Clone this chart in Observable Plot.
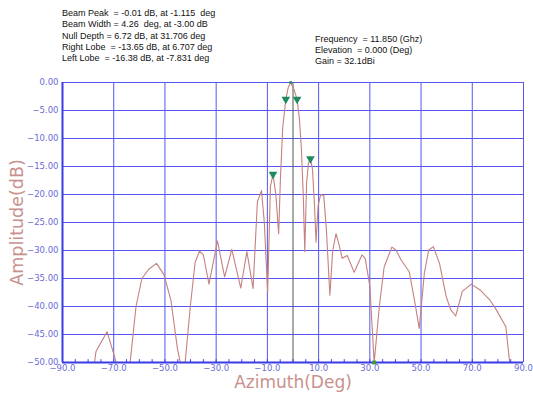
<!DOCTYPE html>
<html>
<head>
<meta charset="utf-8">
<script src="https://cdn.jsdelivr.net/npm/d3@7"></script>
<script src="https://cdn.jsdelivr.net/npm/@observablehq/plot@0.6"></script>
<style>
  html, body { margin: 0; padding: 0; background: #ffffff; }
  #wrap { position: relative; width: 533px; height: 395px; overflow: hidden; }
  #head { position: relative; height: 70px; }
  .info { position: absolute; font-family: "Liberation Sans", Arial, sans-serif; font-size: 9px; line-height: 11.3px; color: #111; white-space: pre; }
  #chart { position: absolute; left: 0; top: 70px; }
</style>
</head>
<body>
<div id="wrap">
  <div id="head">
    <div class="info" id="left" style="left:62px; top:8px;"></div>
    <div class="info" id="right" style="left:315px; top:33.5px;"></div>
  </div>
  <div id="chart"></div>
</div>
<script>
// ---- Data ----
const infoLeft = [
  "Beam Peak  = -0.01 dB, at -1.115  deg",
  "Beam Width = 4.26  deg, at -3.00 dB",
  "Null Depth = 6.72 dB, at 31.706 deg",
  "Right Lobe  = -13.65 dB, at 6.707 deg",
  "Left Lobe  = -16.38 dB, at -7.831 deg"
];
const infoRight = [
  "Frequency  = 11.850 (Ghz)",
  "Elevation  = 0.000 (Deg)",
  "Gain = 32.1dBi"
];

const azimuth = [
  -77.5, -76.9, -72.6, -69.0, null,
  -63.6, -61.3, -59.0, -56.4, -53.3, -50.4, -47.7, -45.1, -44.0, null,
  -42.1, -40.1, -38.2, -36.5, -35.0, -32.8, -29.5, -26.7, -23.9, -20.4, -18.0, -15.6,
  -13.9, -12.3, -11.2, -9.9, -8.8, -7.8, -6.7, -5.6,
  -4.9, -4.0, -2.8, -1.8, -0.9, 0.4, 1.6, 2.5, 3.3, 4.0, 4.6,
  5.3, 6.0, 6.8, 7.6, 8.4, 9.0, 9.8, 10.8, 12.0, 13.0, 14.4,
  15.5, 16.8, 18.0, 19.2, 21.2, 23.9, 26.9, 28.2, 30.0, 31.7,
  33.7, 35.6, 38.6, 40.2, 42.2, 45.4, 47.4, 49.3, 51.3, 53.0, 54.8, 57.2, 59.8,
  61.5, 63.5, 66.1, 69.6, 72.9, 76.8, 79.4, 83.1, 84.6
];
const amplitude = [
  -50, -48, -44.5, -50, null,
  -50, -40, -35, -33.4, -32.3, -34.3, -38.8, -47.6, -50, null,
  -50, -40, -32.1, -30.1, -30.8, -36.0, -28.3, -34.7, -29.8, -36.7, -30.2, -36.8,
  -21.3, -19.3, -25, -37.4, -18.5, -16.4, -20, -27,
  -17, -8, -3, -0.8, 0, -1.3, -3, -6.5, -12, -20, -30.2,
  -18, -14.5, -13.5, -15.5, -22, -28.5, -22, -20, -20.2, -26, -38,
  -30, -27, -29, -31.4, -30.9, -33.9, -30.8, -31.4, -36.4, -50,
  -40, -32.9, -29.4, -29.9, -31.7, -33.8, -38.8, -43.9, -34, -29.9, -29.3, -32.3, -38.2,
  -40.5, -41.7, -37.3, -36.0, -37.0, -38.8, -40.6, -43.6, -50
];

const markerAz = [-7.8, -2.8, 1.6, 6.8];
const markerDb = [-16.4, -3.0, -3.0, -13.6];
const nullAz = [31.7];
const nullDb = [-50];
const peakAz = [-0.9];
const peakDb = [0];

const xTicks = [-90, -70, -50, -30, -10, 10, 30, 50, 70, 90];
const xGrid = [-70, -50, -30, -10, 10, 30, 50, 70, 90];
const xMinor = d3.range(-85, 90, 5);
const yTicks = [0, -5, -10, -15, -20, -25, -30, -35, -40, -45, -50];
const yGrid = [0, -5, -10, -15, -20, -25, -30, -35, -40, -45];

// ---- Build ----
document.getElementById("left").textContent = infoLeft.join("\n");
document.getElementById("right").textContent = infoRight.join("\n");

const curve = azimuth.map((a, i) => ({az: a == null ? NaN : a, db: amplitude[i] == null ? NaN : amplitude[i]}));
const markers = markerAz.map((a, i) => ({az: a, db: markerDb[i]}));
const nulls = nullAz.map((a, i) => ({az: a, db: nullDb[i]}));
const peaks = peakAz.map((a, i) => ({az: a, db: peakDb[i]}));

const minus = s => s.replace("-", "\u2212");
const gridColor = "#5656ee";
const axisColor = "#3b3be6";
const labColor = "#6b6bd8";
const titleColor = "#c8918d";

const plot = Plot.plot({
  width: 533,
  height: 325,
  marginTop: 12,
  marginBottom: 33,
  marginLeft: 62,
  marginRight: 10,
  style: {fontFamily: "DejaVu Sans, sans-serif", fontSize: "8.5px", background: "#ffffff", overflow: "visible"},
  x: {domain: [-90, 90], label: null},
  y: {domain: [-50, 0], label: null},
  marks: [
    Plot.ruleY(yGrid, {stroke: gridColor, strokeWidth: 1}),
    Plot.ruleX(xGrid, {stroke: gridColor, strokeWidth: 1}),
    Plot.ruleX([0], {stroke: "#4d5a4d", strokeWidth: 1}),
    Plot.line(curve, {x: "az", y: "db", stroke: "#c4817f", strokeWidth: 1.1, clip: true}),
    Plot.ruleY([-50], {stroke: axisColor, strokeWidth: 2}),
    Plot.ruleX([-90], {stroke: axisColor, strokeWidth: 2}),
    Plot.ruleX(xMinor, {y1: -50, y2: -49.5, stroke: axisColor, strokeWidth: 1}),
    Plot.dot(markers, {x: "az", y: "db", symbol: "triangle", rotate: 180, r: 3.2, fill: "#1f8a5e", stroke: "none"}),
    Plot.dot(nulls, {x: "az", y: "db", symbol: "square", r: 2.2, fill: "#3a9a3a", stroke: "none"}),
    Plot.dot(peaks, {x: "az", y: "db", symbol: "square", r: 1.5, fill: "#2e8a5e", stroke: "none"}),
    Plot.axisX({ticks: xTicks, tickFormat: d => minus(d.toFixed(1)), tickSize: 0, tickPadding: 2, label: null, fill: labColor}),
    Plot.axisY({ticks: yTicks, tickFormat: d => minus(d.toFixed(2)), tickSize: 0, tickPadding: 4, label: null, fill: labColor}),
    Plot.text(["Amplitude(dB)"], {frameAnchor: "left", dx: -45, rotate: -90, textAnchor: "middle", fontSize: 17.5, fill: titleColor, fontFamily: "DejaVu Sans"}),
    Plot.text(["Azimuth(Deg)"], {frameAnchor: "bottom", dy: 25, textAnchor: "middle", fontSize: 17, fill: titleColor, fontFamily: "DejaVu Sans"})
  ]
});
document.getElementById("chart").appendChild(plot);
</script>
</body>
</html>
